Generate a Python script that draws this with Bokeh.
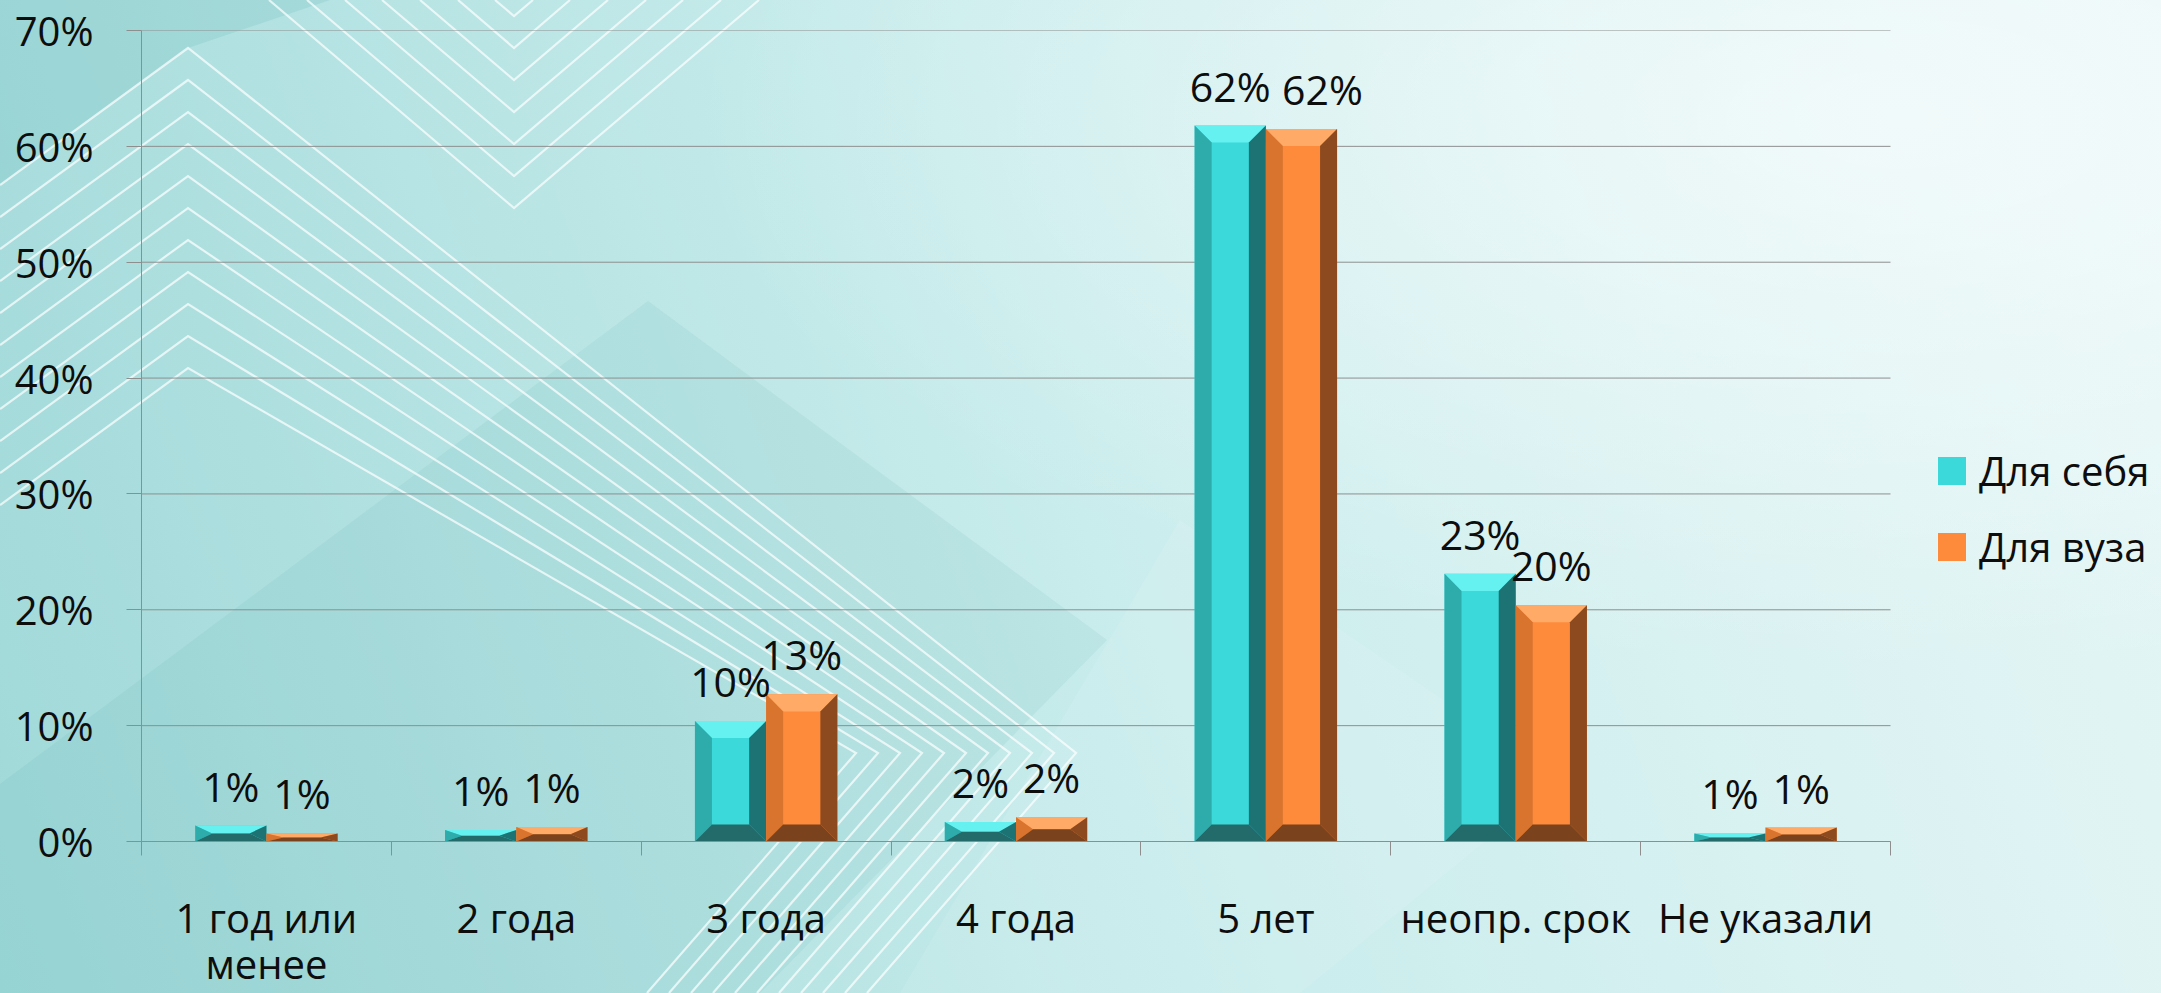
from urllib.parse import quote
from bokeh.plotting import figure
from bokeh.models import Range1d, FixedTicker, NumeralTickFormatter, Legend, LegendItem, LabelSet, ColumnDataSource
from bokeh.core.properties import value
from bokeh.embed import file_html
from bokeh.resources import INLINE

categories = ["1 год или\nменее", "2 года", "3 года", "4 года", "5 лет", "неопр. срок", "Не указали"]
series_names = ["Для себя", "Для вуза"]
self_vals = [0.0138, 0.0100, 0.104, 0.0168, 0.618, 0.231, 0.007]
uni_vals = [0.0070, 0.0125, 0.127, 0.0210, 0.615, 0.204, 0.012]
y_ticks = [0.0, 0.1, 0.2, 0.3, 0.4, 0.5, 0.6, 0.7]

FONT = "Open Sans"
TXT = "#0d0d0d"
GRAY = "#8e8e8e"

# colours: main, top, left, right, bottom
pal = [
    ["#3bd9d9", "#66f1f1", "#2eabab", "#1d7373", "#236a6a"],
    ["#fe8a3c", "#ffaa66", "#d8742e", "#8c4a1e", "#7a421d"],
]
# the reference nudges the orange label of "5 лет" to the right (px)
label_nudge = {(1, 4): 21}

n = len(categories)
W = 0.285                      # bar width in category units
BX = 0.068                     # bevel in x (category units)
BY = 0.0147                    # bevel in y (fraction units)

FIG_W, FIG_H = 2161, 993
LEFT, AXIS_RIGHT = 141, 1890
x_end = n * (FIG_W - LEFT) / (AXIS_RIGHT - LEFT)


# ---- decorative slide background (pure styling, not chart data) ----
def slide_background():
    parts = [f"<svg xmlns='http://www.w3.org/2000/svg' width='{FIG_W}' height='{FIG_H}' "
             f"viewBox='0 0 {FIG_W} {FIG_H}' preserveAspectRatio='none'>"]
    parts.append("<polygon points='648,301 1107,640 760,993 0,993 0,784' fill='#2e9f9f' fill-opacity='0.08'/>")
    parts.append("<polygon points='0,0 330,0 188,48 0,185' fill='#2e9f9f' fill-opacity='0.12'/>")
    parts.append("<polygon points='1180,520 1560,780 1300,993 900,993' fill='#ffffff' fill-opacity='0.10'/>")
    parts.append("<g fill='none' stroke='#ffffff' stroke-opacity='0.7' stroke-width='2.2'>")
    for k in range(11):
        a = 48 + k * 32
        xr = 1076 - k * 22
        xb = xr - (FIG_H - 753) / 1.15
        parts.append(f"<polyline points='0,{a + 188 * 0.73:.0f} 188,{a} {xr},753 {xb:.0f},{FIG_H}'/>")
    for k in range(7):
        a = 16 + k * 32
        d = a / 0.85
        parts.append(f"<polyline points='{514 - d:.0f},0 514,{a} {514 + d:.0f},0'/>")
    parts.append("</g></svg>")
    return "url(\"data:image/svg+xml;utf8," + quote("".join(parts)) + "\")"


p = figure(width=FIG_W, height=FIG_H, x_range=Range1d(0, x_end), y_range=Range1d(0, y_ticks[-1]),
           output_backend="svg", toolbar_location=None,
           min_border_left=LEFT, min_border_right=0, min_border_top=30, min_border_bottom=152)
p.styles = {"background": slide_background() + " no-repeat, "
                          "radial-gradient(ellipse at 88% 12%, rgba(255,255,255,0.55) 0%, rgba(255,255,255,0) 45%), "
                          "linear-gradient(70deg, #9fd8d8 0%, #b6e3e3 28%, #cbeded 52%, #dbf2f2 76%, #e6f6f6 100%)"}
p.border_fill_color = None
p.background_fill_color = None
p.outline_line_color = None

p.xgrid.visible = False
p.ygrid.visible = False
p.segment(x0=[0] * len(y_ticks), x1=[n] * len(y_ticks), y0=y_ticks, y1=y_ticks,
          line_color=GRAY, line_width=1)

renderers = []
face_xs, face_ys, face_cols = [], [], []
lab = {"x": [], "y": [], "t": [], "dx": []}
for s, vals in enumerate([self_vals, uni_vals]):
    xs0 = [i + 0.5 - W + s * W for i in range(n)]
    mids = [x0 + W / 2 for x0 in xs0]
    r = p.vbar(x=mids, top=vals, width=W, bottom=0, fill_color=pal[s][0], line_color=None)
    renderers.append(r)
    for i, (x0, v) in enumerate(zip(xs0, vals)):
        x1 = x0 + W
        by = min(BY, v / 2)
        bx = BX
        face_xs += [[x0, x1, x1 - bx, x0 + bx], [x0, x0 + bx, x0 + bx, x0],
                    [x1, x1 - bx, x1 - bx, x1], [x0, x1, x1 - bx, x0 + bx]]
        face_ys += [[v, v, v - by, v - by], [0, by, v - by, v],
                    [0, by, v - by, v], [0, 0, by, by]]
        face_cols += [pal[s][1], pal[s][2], pal[s][3], pal[s][4]]
        lab["x"].append(x0 + W / 2)
        lab["y"].append(v)
        lab["t"].append(f"{round(v * 100):.0f}%")
        lab["dx"].append(label_nudge.get((s, i), 0))

p.patches(xs=face_xs, ys=face_ys, fill_color=face_cols, line_color=None)
labels = LabelSet(x="x", y="y", text="t", x_offset="dx", y_offset=24, source=ColumnDataSource(lab),
                  text_align="center", text_baseline="alphabetic",
                  text_font=value(FONT), text_font_size="41px", text_color=TXT)
p.add_layout(labels)

# axes
p.yaxis.ticker = FixedTicker(ticks=y_ticks)
p.yaxis.formatter = NumeralTickFormatter(format="0%")
p.yaxis.axis_line_color = GRAY
p.yaxis.major_tick_line_color = GRAY
p.yaxis.major_tick_out = 15
p.yaxis.major_tick_in = 0
p.yaxis.minor_tick_line_color = None
p.yaxis.major_label_standoff = 33
p.yaxis.major_label_text_font = FONT
p.yaxis.major_label_text_font_size = "40px"
p.yaxis.major_label_text_color = TXT

centers = [i + 0.5 for i in range(n)]
p.xaxis.bounds = (0, n)
p.xaxis.ticker = FixedTicker(ticks=centers, minor_ticks=list(range(n + 1)))
p.xaxis.major_label_overrides = {c: lab_ for c, lab_ in zip(centers, categories)}
p.xaxis.axis_line_color = GRAY
p.xaxis.major_tick_line_color = None
p.xaxis.major_tick_out = 0
p.xaxis.major_tick_in = 0
p.xaxis.minor_tick_line_color = GRAY
p.xaxis.minor_tick_out = 14
p.xaxis.minor_tick_in = 0
p.xaxis.major_label_standoff = 34
p.xaxis.major_label_text_font = FONT
p.xaxis.major_label_text_font_size = "40px"
p.xaxis.major_label_text_color = TXT
p.xaxis.major_label_text_line_height = 0.84

legend = Legend(items=[LegendItem(label=series_names[0], renderers=[renderers[0]]),
                       LegendItem(label=series_names[1], renderers=[renderers[1]])],
                location=(1793, 267), orientation="vertical",
                glyph_width=35, glyph_height=35, label_height=28, label_standoff=10,
                spacing=21, padding=0, margin=0, border_line_color=None,
                background_fill_alpha=0, label_text_font=FONT, label_text_font_size="40px",
                label_text_color=TXT)
p.add_layout(legend, "center")

open("out.html", "w").write(file_html(p, INLINE))
